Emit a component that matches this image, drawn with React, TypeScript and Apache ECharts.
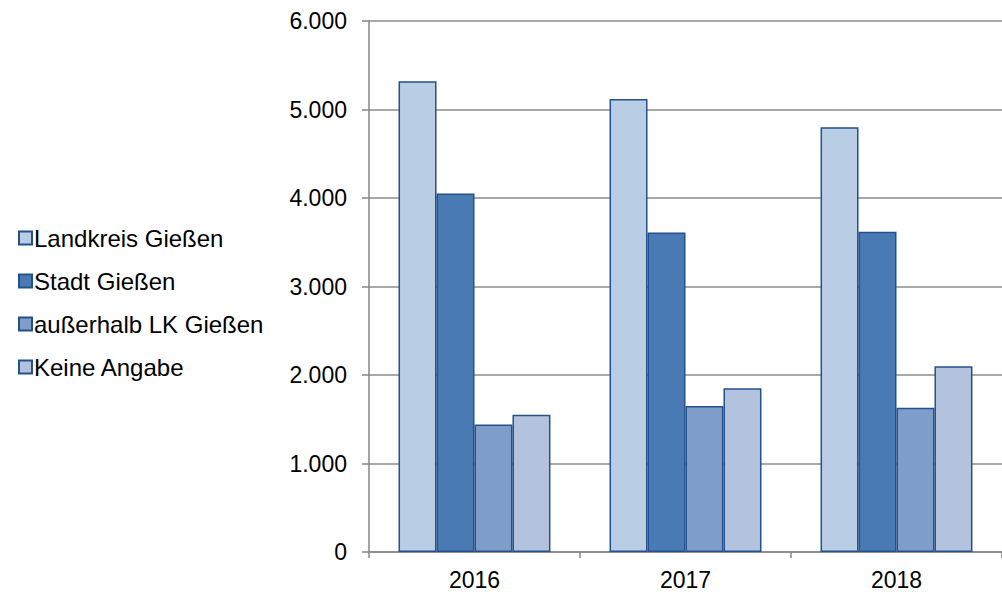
import React, { useEffect, useRef } from "react";
import * as echarts from "echarts";

const categories = ["2016", "2017", "2018"];
const landkreis = [5320, 5120, 4800];
const stadt = [4050, 3610, 3620];
const ausserhalb = [1440, 1650, 1630];
const keineAngabe = [1550, 1850, 2100];
const seriesNames = ["Landkreis Gießen", "Stadt Gießen", "außerhalb LK Gießen", "Keine Angabe"];
const seriesColors = ["#b9cde5", "#4a7ab4", "#7f9dc9", "#b3c3de"];

export default function App() {
  const ref = useRef<HTMLDivElement>(null);
  useEffect(() => {
    if (!ref.current) return;
    const chart = echarts.init(ref.current, null, { renderer: "svg" });
    const data = [landkreis, stadt, ausserhalb, keineAngabe];
    const font = "'Liberation Sans', Arial, sans-serif";
    chart.setOption({
      animation: false,
      textStyle: { fontFamily: font },
      grid: { left: 369, right: 0, top: 21, bottom: 40, containLabel: false },
      legend: {
        orient: "vertical",
        left: 13,
        top: 221,
        icon: "rect",
        itemWidth: 13,
        itemHeight: 13,
        itemGap: 19,
        textStyle: { fontSize: 24, lineHeight: 24, color: "#000", fontFamily: font, padding: [0, 0, 0, -3] },
        data: seriesNames,
      },
      xAxis: {
        type: "category",
        data: categories,
        axisLine: { lineStyle: { color: "#868686", width: 1.5 } },
        axisTick: { show: true, length: 6, lineStyle: { color: "#868686", width: 1.5 } },
        axisLabel: { fontSize: 23, color: "#000", margin: 16, fontFamily: font },
      },
      yAxis: {
        type: "value",
        min: 0,
        max: 6000,
        interval: 1000,
        axisLine: { show: true, lineStyle: { color: "#868686", width: 1.5 } },
        axisTick: { show: true, length: 7, lineStyle: { color: "#868686", width: 1.5 } },
        splitLine: { lineStyle: { color: "#8c8c8c", width: 1.5 } },
        axisLabel: {
          fontSize: 23,
          color: "#000",
          margin: 22,
          fontFamily: font,
          formatter: (v: number) => v.toLocaleString("de-DE"),
        },
      },
      series: seriesNames.map((name, i) => ({
        name,
        type: "bar",
        data: data[i],
        barGap: "0%",
        barCategoryGap: "28%",
        itemStyle: { color: seriesColors[i], borderColor: "#24508c", borderWidth: 1.5 },
      })),
    });
    return () => chart.dispose();
  }, []);
  return <div ref={ref} style={{ width: 1002, height: 592, position: "absolute", left: 0, top: 0 }} />;
}
